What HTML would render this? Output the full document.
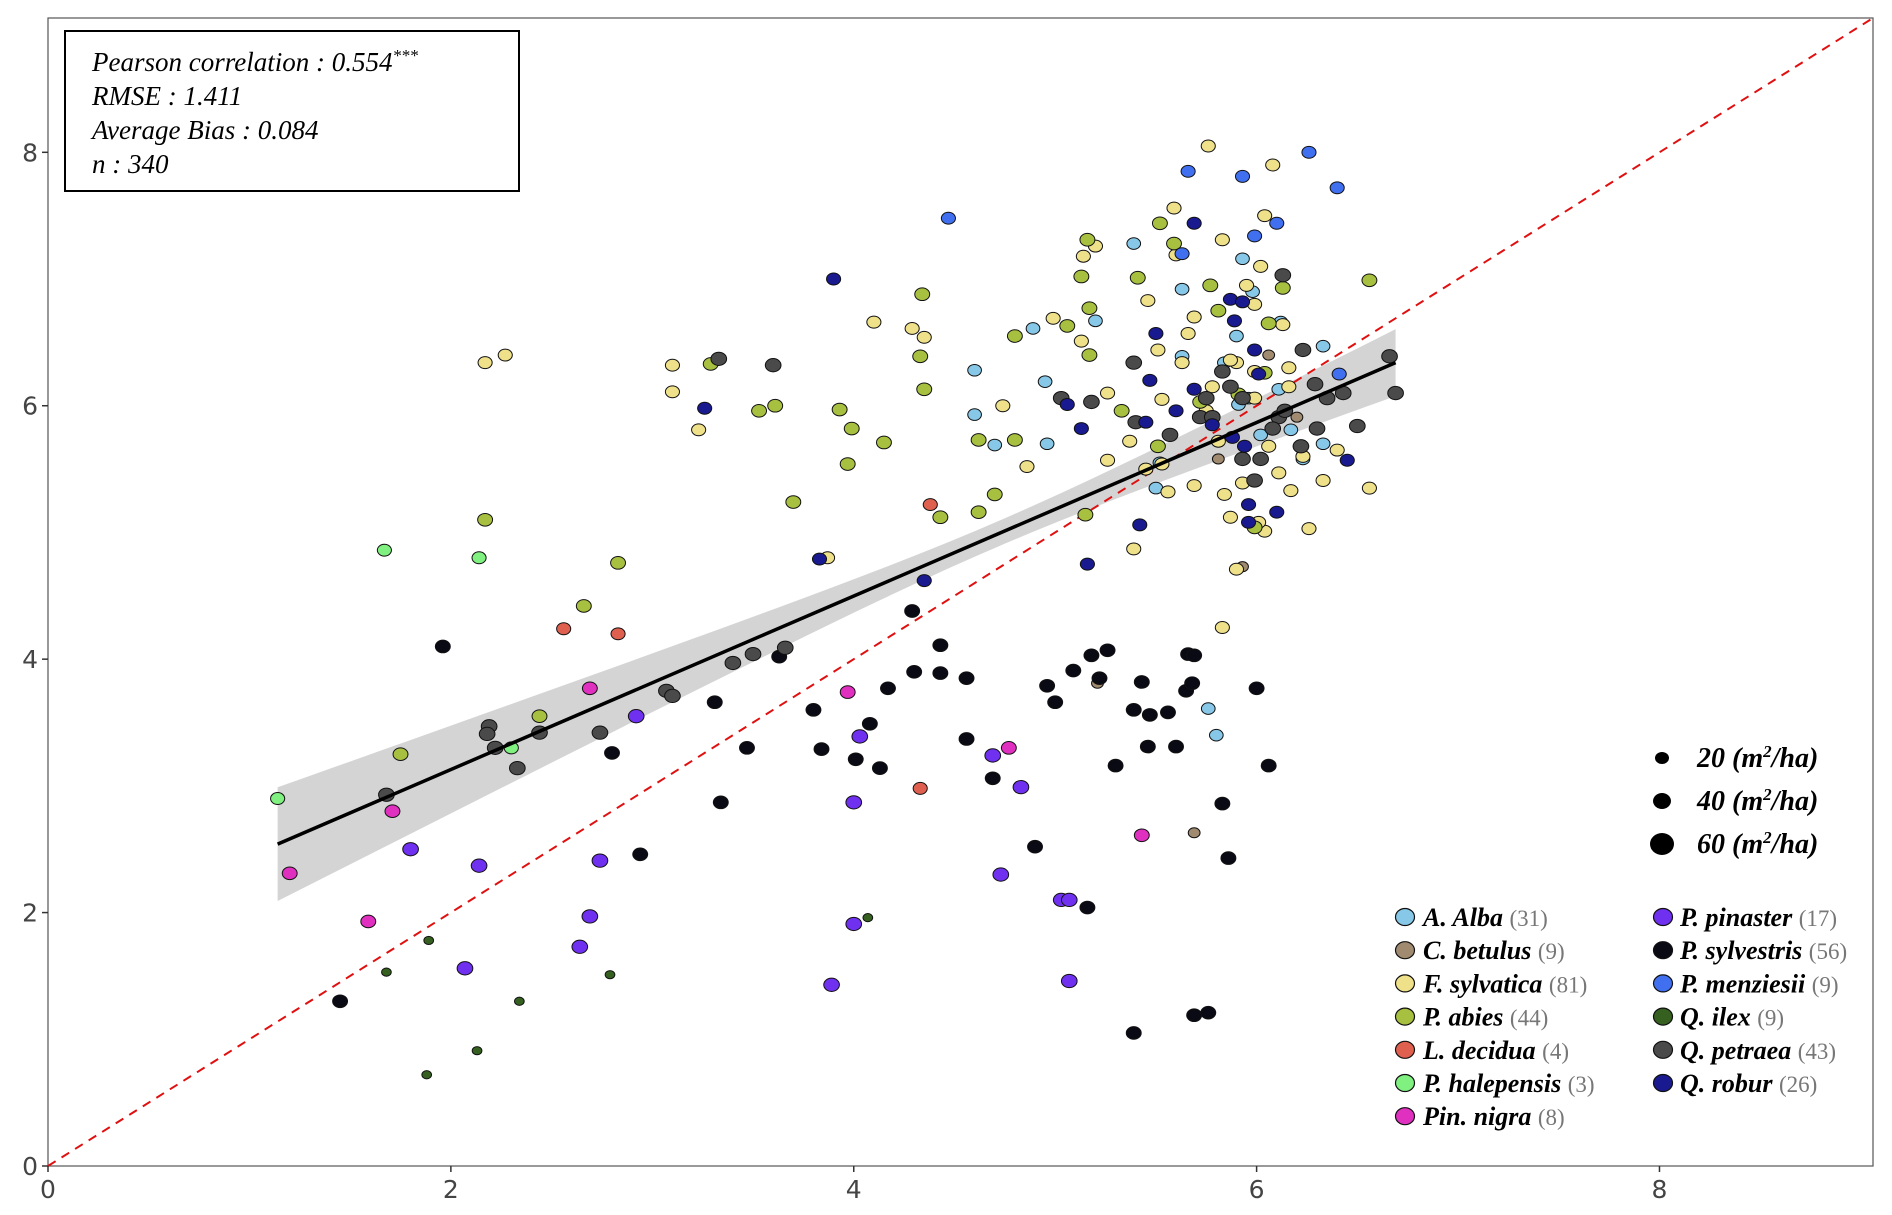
<!DOCTYPE html>
<html><head><meta charset="utf-8"><style>
html,body{margin:0;padding:0;background:#fff}
svg{display:block}
</style></head><body>
<svg id="chart" width="1892" height="1215" xmlns="http://www.w3.org/2000/svg">
<rect x="0" y="0" width="1892" height="1215" fill="#fff"/>
<g id="plot"></g>
</svg>
<script>
const xTicks=[0,2,4,6,8];
const yTicks=[0,2,4,6,8];
const speciesNames=["A. Alba","C. betulus","F. sylvatica","P. abies","L. decidua","P. halepensis","Pin. nigra","P. pinaster","P. sylvestris","P. menziesii","Q. ilex","Q. petraea","Q. robur"];
const speciesCounts=[31,9,81,44,4,3,8,17,56,9,9,43,26];
const speciesColors=["#87c8e8","#a08a70","#efe08a","#a8c040","#e06050","#80f080","#e030c0","#7030f0","#0a0a14","#4070f0","#356020","#4a4a4a","#1a1a90"];
const statsLines=["Pearson correlation : 0.554","RMSE : 1.411","Average Bias : 0.084","n : 340"];
const sizeLegend=[20,40,60];
const fitLine=[[1.14,2.54],[6.69,6.34]];
const ptsAlba=[[4.60,6.28],[4.60,5.93],[4.70,5.69],[4.89,6.61],[4.95,6.19],[4.96,5.70],[5.20,6.67],[5.39,7.28],[5.52,5.55],[5.50,5.35],[5.63,6.92],[5.63,6.39],[5.76,3.61],[5.80,3.40],[5.91,6.01],[5.93,7.16],[5.98,6.90],[5.90,6.55],[6.12,6.66],[6.23,5.58],[6.33,5.70],[6.33,6.47],[5.84,6.34],[6.02,5.77],[6.11,6.13],[5.96,6.06],[6.17,5.81]];
const ptsBetulus=[[6.06,6.40],[5.93,4.73],[5.69,2.63],[5.21,3.81],[5.81,5.58],[6.20,5.91]];
const ptsSylvatica=[[2.17,6.34],[2.27,6.40],[3.10,6.32],[3.10,6.11],[3.23,5.81],[4.10,6.66],[4.29,6.61],[4.35,6.54],[3.87,4.80],[4.74,6.00],[4.86,5.52],[4.99,6.69],[5.13,6.51],[5.20,7.26],[5.14,7.18],[5.26,6.10],[5.26,5.57],[5.37,5.72],[5.39,4.87],[5.46,6.83],[5.53,5.54],[5.56,5.32],[5.59,7.56],[5.60,7.19],[5.66,6.57],[5.69,5.37],[5.76,8.05],[5.83,7.31],[5.83,4.25],[5.87,5.12],[5.90,4.71],[5.90,6.34],[5.95,6.95],[6.02,7.10],[6.04,7.50],[6.08,7.90],[6.13,6.64],[6.17,5.33],[6.23,5.60],[6.26,5.03],[6.33,5.41],[6.40,5.65],[6.56,5.35],[5.75,5.96],[5.78,6.15],[5.99,6.27],[5.87,6.36],[5.84,5.30],[6.04,5.01],[6.11,5.47],[5.93,5.39],[5.51,6.44],[5.63,6.34],[5.69,6.70],[5.99,6.06],[6.06,5.68],[6.16,6.15],[5.81,5.72],[5.99,6.80],[5.53,6.05],[5.45,5.50],[6.01,5.08],[6.16,6.30]];
const ptsAbies=[[2.17,5.10],[2.83,4.76],[2.66,4.42],[1.75,3.25],[2.44,3.55],[3.29,6.33],[3.53,5.96],[3.61,6.00],[3.70,5.24],[3.93,5.97],[3.97,5.54],[3.99,5.82],[4.15,5.71],[4.34,6.88],[4.33,6.39],[4.35,6.13],[4.43,5.12],[4.62,5.73],[4.62,5.16],[4.70,5.30],[4.80,6.55],[4.80,5.73],[5.06,6.63],[5.13,7.02],[5.15,5.14],[5.16,7.31],[5.17,6.40],[5.17,6.77],[5.41,7.01],[5.52,7.44],[5.59,7.28],[5.77,6.95],[5.81,6.75],[6.04,6.26],[6.13,6.93],[6.56,6.99],[5.99,5.04],[5.33,5.96],[5.72,6.03],[5.51,5.68],[6.06,6.65],[5.91,6.09]];
const ptsDecidua=[[2.56,4.24],[2.83,4.20],[4.38,5.22],[4.33,2.98]];
const ptsHalepensis=[[1.14,2.90],[1.67,4.86],[2.14,4.80],[2.30,3.30]];
const ptsNigra=[[1.20,2.31],[1.71,2.80],[1.59,1.93],[2.69,3.77],[3.97,3.74],[4.77,3.30],[5.43,2.61]];
const ptsPinaster=[[1.80,2.50],[2.14,2.37],[2.07,1.56],[2.64,1.73],[2.69,1.97],[2.74,2.41],[2.92,3.55],[3.89,1.43],[4.00,2.87],[4.00,1.91],[4.03,3.39],[4.69,3.24],[4.73,2.30],[4.83,2.99],[5.03,2.10],[5.07,2.10],[5.07,1.46]];
const ptsSylvestris=[[1.96,4.10],[1.45,1.30],[3.31,3.66],[3.34,2.87],[3.47,3.30],[3.63,4.02],[2.80,3.26],[2.94,2.46],[3.80,3.60],[3.84,3.29],[4.01,3.21],[4.08,3.49],[4.13,3.14],[4.17,3.77],[4.29,4.38],[4.30,3.90],[4.43,4.11],[4.43,3.89],[4.56,3.85],[4.56,3.37],[4.69,3.06],[4.90,2.52],[4.96,3.79],[5.00,3.66],[5.09,3.91],[5.18,4.03],[5.16,2.04],[5.22,3.85],[5.26,4.07],[5.30,3.16],[5.43,3.82],[5.39,3.60],[5.46,3.31],[5.56,3.58],[5.60,3.31],[5.65,3.75],[5.68,3.81],[5.66,4.04],[5.69,4.03],[5.83,2.86],[5.86,2.43],[6.00,3.77],[6.06,3.16],[5.39,1.05],[5.69,1.19],[5.76,1.21],[5.47,3.56]];
const ptsMenziesii=[[4.47,7.48],[5.66,7.85],[5.93,7.81],[6.26,8.00],[6.40,7.72],[6.10,7.44],[5.99,7.34],[6.41,6.25],[5.63,7.20]];
const ptsIlex=[[1.68,1.53],[1.89,1.78],[1.88,0.72],[2.13,0.91],[2.34,1.30],[2.79,1.51],[4.07,1.96]];
const ptsPetraea=[[3.33,6.37],[3.60,6.32],[3.40,3.97],[3.50,4.04],[3.66,4.09],[3.07,3.75],[3.10,3.71],[2.74,3.42],[2.19,3.47],[2.18,3.41],[2.22,3.30],[2.33,3.14],[2.44,3.42],[1.68,2.93],[5.39,6.34],[5.40,5.87],[5.57,5.77],[5.72,5.91],[5.75,6.06],[5.93,5.58],[6.02,5.58],[6.11,5.91],[6.13,7.03],[6.22,5.68],[6.30,5.82],[6.35,6.06],[6.43,6.10],[6.50,5.84],[6.66,6.39],[6.69,6.10],[6.29,6.17],[5.99,5.41],[6.14,5.96],[5.93,6.06],[5.87,6.15],[6.23,6.44],[5.78,5.91],[6.08,5.82],[5.18,6.03],[5.03,6.06],[5.83,6.27]];
const ptsRobur=[[3.90,7.00],[3.26,5.98],[3.83,4.79],[4.35,4.62],[5.06,6.01],[5.13,5.82],[5.16,4.75],[5.42,5.06],[5.47,6.20],[5.50,6.57],[5.69,7.44],[5.87,6.84],[5.93,6.82],[5.89,6.67],[5.96,5.22],[5.96,5.08],[6.10,5.16],[6.45,5.57],[6.01,6.25],[5.88,5.75],[5.78,5.85],[5.45,5.87],[5.99,6.44],[5.94,5.68],[5.60,5.96],[5.69,6.13]];
const speciesSizes=[16,12,17,19,17,17,19,21,19,17,8,21,17];
const allPoints=[ptsAlba,ptsBetulus,ptsSylvatica,ptsAbies,ptsDecidua,ptsHalepensis,ptsNigra,ptsPinaster,ptsSylvestris,ptsMenziesii,ptsIlex,ptsPetraea,ptsRobur];

const NS="http://www.w3.org/2000/svg";
const L=48,T=18,R=1873,B=1166,XMAX=9.06,YMAX=9.06;
function sx(v){return L+v/XMAX*(R-L);}
function sy(v){return B-v/YMAX*(B-T);}
function rad(s){return 1.45*Math.sqrt(s);}
const g=document.getElementById('plot');
function mk(tag,attrs,parent){const e=document.createElementNS(NS,tag);for(const k in attrs)e.setAttribute(k,attrs[k]);(parent||g).appendChild(e);return e;}

const panel=mk('rect',{x:L,y:T,width:R-L,height:B-T,fill:'#fff',stroke:'#555','stroke-width':1.2});



const bx0=fitLine[0][0],bx1=fitLine[1][0];
const slope=(fitLine[1][1]-fitLine[0][1])/(bx1-bx0);
function fy(x){return fitLine[0][1]+slope*(x-bx0);}
function hw(x){return Math.sqrt(0.01+0.0151*(x-4.7)*(x-4.7));}
let up=[],lo=[];
for(let i=0;i<=40;i++){const x=bx0+(bx1-bx0)*i/40;up.push(sx(x)+','+sy(fy(x)+hw(x)));lo.unshift(sx(x)+','+sy(fy(x)-hw(x)));}
const band=mk('polygon',{points:up.concat(lo).join(' '),fill:'#d4d4d4'});



const idl=mk('line',{x1:sx(0),y1:sy(0),x2:sx(XMAX),y2:sy(YMAX),stroke:'#e01010','stroke-width':2,'stroke-dasharray':'9,7'});



allPoints.forEach((arr,si)=>{
  arr.forEach(p=>{
    const r=rad(speciesSizes[si]);
    const c=mk('ellipse',{cx:sx(p[0]),cy:sy(p[1]),rx:r*1.18,ry:r,fill:speciesColors[si],stroke:'#111','stroke-width':1});
    
    
  });
});

const fl=mk('line',{x1:sx(fitLine[0][0]),y1:sy(fitLine[0][1]),x2:sx(fitLine[1][0]),y2:sy(fitLine[1][1]),stroke:'#000','stroke-width':3.5});



xTicks.forEach(v=>{
  const t=mk('line',{x1:sx(v),y1:B,x2:sx(v),y2:B+6,stroke:'#333','stroke-width':1.5});
  
  
  const tx=mk('text',{x:sx(v),y:B+32,'text-anchor':'middle','font-family':'DejaVu Sans, sans-serif','font-size':25,fill:'#444'});
  tx.textContent=v;
  
  
});
yTicks.forEach(v=>{
  const t=mk('line',{x1:L-6,y1:sy(v),x2:L,y2:sy(v),stroke:'#333','stroke-width':1.5});
  
  
  const tx=mk('text',{x:L-10,y:sy(v)+9,'text-anchor':'end','font-family':'DejaVu Sans, sans-serif','font-size':25,fill:'#444'});
  tx.textContent=v;
  
  
});

const sb=mk('rect',{x:65,y:31,width:454,height:160,fill:'#fff',stroke:'#000','stroke-width':2});


statsLines.forEach((s,i)=>{
  const t=mk('text',{x:92,y:71+i*34,'font-family':'Liberation Serif, serif','font-style':'italic','font-size':27,fill:'#000'});
  t.textContent=s;
  if(i===0){const ts=mk('tspan',{dy:-10,'font-size':17},t);ts.textContent='***';}
  
  
});

sizeLegend.forEach((s,i)=>{
  const y=758+i*43;
  const c=mk('ellipse',{cx:1662,cy:y,rx:[7,9,12][i],ry:[6,8,11][i],fill:'#000'});
  
  
  const t=mk('text',{x:1697,y:y+9,'font-family':'Liberation Serif, serif','font-style':'italic','font-weight':'bold','font-size':28,fill:'#000'});
  t.textContent=s+' (m';
  const sup=mk('tspan',{dy:-10,'font-size':17},t);sup.textContent='2';
  const rest=mk('tspan',{dy:10},t);rest.textContent='/ha)';
  
  
});

speciesNames.forEach((n,i)=>{
  const col=i<7?0:1,row=i<7?i:i-7;
  const y=917+row*33.2;
  const cx=col===0?1405:1663, tx=col===0?1423:1680;
  const c=mk('ellipse',{cx:cx,cy:y,rx:9.5,ry:8.5,fill:speciesColors[i],stroke:'#111','stroke-width':1.2});
  
  
  const t=mk('text',{x:tx,y:y+9,'font-family':'Liberation Serif, serif','font-size':26,fill:'#000'});
  const a=mk('tspan',{'font-style':'italic','font-weight':'bold'},t);a.textContent=n+' ';
  const b=mk('tspan',{fill:'#777','font-size':23},t);b.textContent='('+speciesCounts[i]+')';
  
  
});
</script>
</body></html>
